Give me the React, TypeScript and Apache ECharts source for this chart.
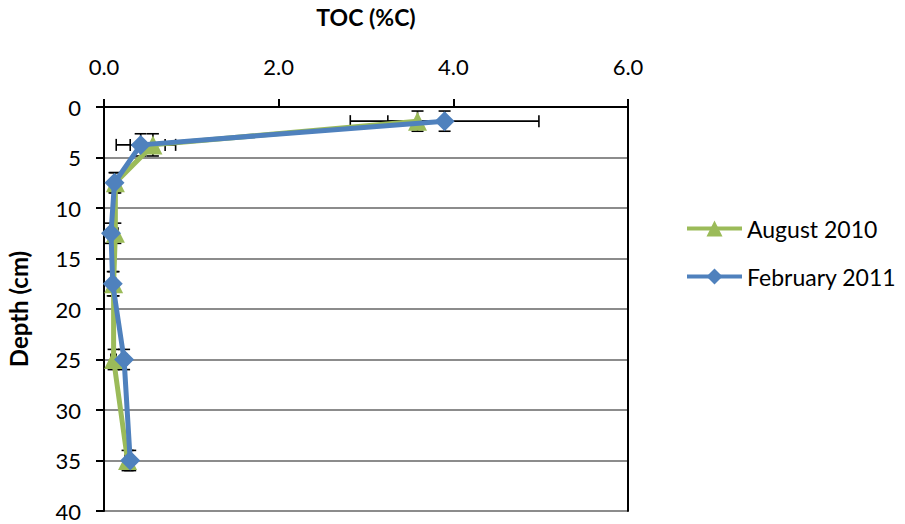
import React, { useEffect, useRef } from "react";
import * as echarts from "echarts";

const depths = [1.4, 3.75, 7.5, 12.5, 17.5, 25, 35];
const depthErr = [1, 1.1, 1, 1, 1.2, 1, 1];
const aug2010 = [3.59, 0.56, 0.13, 0.13, 0.11, 0.11, 0.27];
const aug2010Err = [0.34, 0.26, 0.03, 0.03, 0.03, 0.03, 0.03];
const feb2011 = [3.9, 0.42, 0.12, 0.08, 0.1, 0.23, 0.3];
const feb2011Err = [1.08, 0.28, 0.03, 0.03, 0.03, 0.03, 0.03];
const xTicks = { min: 0, max: 6, interval: 2 };
const yTicks = { min: 0, max: 40, interval: 5 };
const seriesNames = ["August 2010", "February 2011"];

const FONT = "Lato, 'Open Sans', sans-serif";

function errRender(params: any, api: any) {
  const x = api.value(0);
  const y = api.value(1);
  const ex = api.value(2);
  const ey = api.value(3);
  const l = api.coord([x - ex, y]);
  const r = api.coord([x + ex, y]);
  const t = api.coord([x, y - ey]);
  const b = api.coord([x, y + ey]);
  const cap = 6;
  const style = { stroke: "#000", lineWidth: 1.6 };
  const line = (x1: number, y1: number, x2: number, y2: number) => ({
    type: "line",
    shape: { x1, y1, x2, y2 },
    style,
  });
  return {
    type: "group",
    children: [
      line(l[0], l[1], r[0], r[1]),
      line(l[0], l[1] - cap, l[0], l[1] + cap),
      line(r[0], r[1] - cap, r[0], r[1] + cap),
      line(t[0], t[1], b[0], b[1]),
      line(t[0] - cap, t[1], t[0] + cap, t[1]),
      line(b[0] - cap, b[1], b[0] + cap, b[1]),
    ],
  };
}

export default function App() {
  const ref = useRef<HTMLDivElement>(null);
  useEffect(() => {
    if (!ref.current) return;
    const chart = echarts.init(ref.current, undefined, { renderer: "svg" });
    const green = "#9BBB59";
    const blue = "#4F81BD";
    chart.setOption({
      animation: false,
      textStyle: { fontFamily: FONT },
      grid: {
        left: 104,
        top: 107,
        right: 277,
        bottom: 13,
        containLabel: false,
        outerBoundsMode: "none",
      },
      legend: {
        data: seriesNames,
        orient: "vertical",
        left: 680,
        top: 212,
        itemWidth: 55,
        itemHeight: 20,
        itemGap: 25,
        lineStyle: { width: 4 },
        textStyle: { fontFamily: FONT, fontSize: 23, color: "#000" },
      },
      xAxis: {
        type: "value",
        position: "top",
        min: xTicks.min,
        max: xTicks.max,
        interval: xTicks.interval,
        name: "TOC (%C)",
        nameLocation: "middle",
        nameGap: 79,
        nameTextStyle: { fontFamily: FONT, fontSize: 23, fontWeight: "bold", color: "#000" },
        axisLine: { show: true, lineStyle: { color: "#000", width: 2 } },
        axisTick: { show: true, length: 8, lineStyle: { color: "#000", width: 2 } },
        axisLabel: {
          fontFamily: FONT,
          fontSize: 22,
          color: "#000",
          margin: 30,
          formatter: (v: number) => v.toFixed(1),
        },
        splitLine: { show: false },
      },
      yAxis: [
        {
          type: "value",
          inverse: true,
          min: yTicks.min,
          max: yTicks.max,
          interval: yTicks.interval,
          name: "Depth (cm)",
          nameLocation: "middle",
          nameGap: 74,
          nameRotate: 90,
          nameTextStyle: { fontFamily: FONT, fontSize: 24, fontWeight: "bold", color: "#000" },
          axisLine: { show: true, lineStyle: { color: "#000", width: 2 } },
          axisTick: { show: true, length: 8, lineStyle: { color: "#000", width: 2 } },
          axisLabel: { fontFamily: FONT, fontSize: 22, color: "#000", margin: 23 },
          splitLine: { show: true, lineStyle: { color: "#8C8C8C", width: 1.8 } },
        },
        {
          type: "value",
          inverse: true,
          position: "right",
          min: yTicks.min,
          max: yTicks.max,
          interval: yTicks.interval,
          axisLine: { show: true, lineStyle: { color: "#000", width: 2 } },
          axisTick: { show: false },
          axisLabel: { show: false },
          splitLine: { show: false },
        },
      ],
      series: [
        {
          type: "custom",
          name: "errA",
          renderItem: errRender,
          data: aug2010.map((v, i) => [v, depths[i], aug2010Err[i], depthErr[i]]),
          z: 1,
          silent: true,
        },
        {
          type: "custom",
          name: "errF",
          renderItem: errRender,
          data: feb2011.map((v, i) => [v, depths[i], feb2011Err[i], depthErr[i]]),
          z: 1,
          silent: true,
        },
        {
          type: "line",
          name: seriesNames[0],
          data: aug2010.map((v, i) => [v, depths[i]]),
          symbol: "triangle",
          symbolSize: 19,
          showSymbol: true,
          lineStyle: { color: green, width: 5 },
          itemStyle: { color: green },
          z: 3,
        },
        {
          type: "line",
          name: seriesNames[1],
          data: feb2011.map((v, i) => [v, depths[i]]),
          symbol: "diamond",
          symbolSize: 20,
          showSymbol: true,
          lineStyle: { color: blue, width: 5 },
          itemStyle: { color: blue },
          z: 4,
        },
      ],
    });
    return () => chart.dispose();
  }, []);
  return <div ref={ref} style={{ width: 905, height: 524, position: "absolute", left: 0, top: 0 }} />;
}
